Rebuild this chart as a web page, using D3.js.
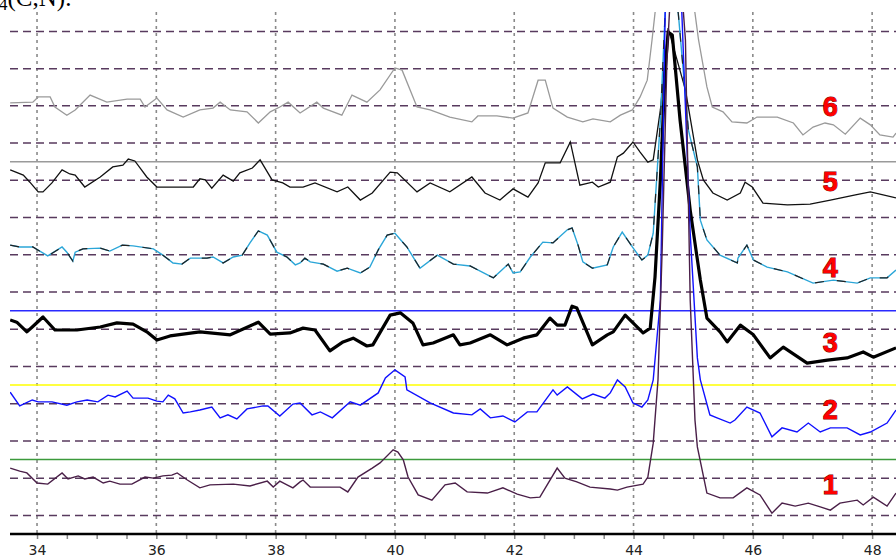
<!DOCTYPE html>
<html><head><meta charset="utf-8">
<script src="https://cdn.jsdelivr.net/npm/d3@7"></script>
<style>html,body{margin:0;padding:0;background:#fff;overflow:hidden}</style>
</head><body><svg id="c" width="896" height="558"></svg>
<script>
// ---- data (2θ in degrees, intensity in arbitrary counts) ----
const xTicks = [34, 36, 38, 40, 42, 44, 46, 48];
const gridLevels = [50,150,250,350,450,550,650,750,850,950,1050,1150,1250,1350];
const baseLevels = [200, 400, 600, 1000];
const baseColors = ["#3c9a3c", "#ffff00", "#2a2aff", "#9a9a9a"];
const seriesNames = ["1", "2", "3", "4", "5", "6"];
const labelX = [47.30, 47.30, 47.30, 47.30, 47.30, 47.30];
const labelY = [132, 333, 513, 714, 945, 1147];

const s1 = [[33.55,177],[33.71,169],[33.83,164],[34.00,137],[34.18,134],[34.42,164],[34.52,148],[34.69,156],[34.80,148],[34.94,153],[35.11,137],[35.22,142],[35.39,134],[35.59,134],[35.81,153],[35.95,150],[36.11,156],[36.26,158],[36.35,164],[36.52,145],[36.73,124],[36.90,132],[37.29,134],[37.57,129],[37.86,142],[37.96,126],[38.07,142],[38.19,132],[38.29,124],[38.41,140],[38.46,145],[38.58,126],[39.08,126],[39.21,113],[39.38,153],[39.62,177],[39.75,191],[39.97,226],[40.05,220],[40.14,199],[40.22,153],[40.39,105],[40.62,91],[40.84,132],[41.01,137],[41.21,113],[41.55,110],[41.81,124],[42.05,107],[42.27,97],[42.43,99],[42.72,177],[42.85,150],[43.05,140],[43.27,126],[43.61,121],[43.73,118],[43.89,126],[44.16,134],[44.24,153],[44.33,244],[44.41,414],[44.48,763],[44.56,1273],[44.70,1700],[44.87,1327],[44.95,629],[45.03,306],[45.07,234],[45.23,110],[45.45,97],[45.67,97],[45.90,124],[46.12,105],[46.32,56],[46.49,83],[46.71,75],[46.93,83],[47.13,73],[47.30,64],[47.46,83],[47.75,91],[47.85,78],[48.02,99],[48.25,75],[48.40,110]];
const s2 = [[33.55,381],[33.71,344],[33.92,360],[34.02,355],[34.25,355],[34.50,346],[34.67,355],[34.84,360],[35.02,355],[35.19,373],[35.31,368],[35.51,384],[35.61,365],[35.86,365],[36.01,357],[36.11,355],[36.20,373],[36.31,363],[36.45,325],[36.57,328],[36.73,333],[36.93,341],[37.07,312],[37.20,320],[37.35,309],[37.52,336],[37.79,344],[37.87,344],[38.07,317],[38.29,349],[38.41,352],[38.61,320],[38.75,328],[38.95,312],[39.25,355],[39.42,346],[39.72,379],[39.84,419],[40.00,441],[40.17,422],[40.20,387],[40.59,352],[40.98,325],[41.29,320],[41.43,336],[41.60,312],[41.81,317],[42.01,301],[42.22,328],[42.38,328],[42.65,387],[42.72,373],[42.89,395],[43.14,363],[43.32,376],[43.52,365],[43.61,379],[43.73,414],[43.86,395],[43.99,352],[44.14,341],[44.24,360],[44.33,414],[44.45,629],[44.53,1399],[44.66,1700],[44.81,1399],[44.95,808],[45.07,473],[45.12,414],[45.28,320],[45.40,312],[45.62,298],[45.70,306],[45.90,341],[46.12,325],[46.32,261],[46.49,285],[46.74,274],[46.93,298],[47.13,274],[47.30,285],[47.58,285],[47.80,266],[47.97,274],[48.25,298],[48.40,333]];
const s3 = [[33.55,575],[33.66,569],[33.83,543],[33.92,556],[34.10,583],[34.30,548],[34.67,548],[35.06,556],[35.34,567],[35.61,564],[35.84,543],[36.01,521],[36.23,532],[36.73,543],[37.24,535],[37.71,569],[37.91,537],[38.24,540],[38.46,553],[38.66,548],[38.91,492],[39.13,516],[39.30,526],[39.53,505],[39.63,508],[39.92,588],[40.09,594],[40.30,567],[40.47,508],[40.64,513],[40.98,535],[41.09,508],[41.26,513],[41.60,535],[41.88,508],[42.15,526],[42.38,535],[42.60,580],[42.72,561],[42.85,561],[42.97,612],[43.05,607],[43.31,508],[43.56,535],[43.66,543],[43.86,588],[44.16,540],[44.28,553],[44.36,690],[44.45,951],[44.53,1246],[44.58,1348],[44.65,1340],[44.78,1112],[44.95,870],[45.12,682],[45.23,580],[45.45,543],[45.57,516],[45.79,561],[46.01,535],[46.29,473],[46.51,502],[46.91,459],[47.25,467],[47.58,473],[47.85,489],[48.02,475],[48.40,500]];
const s4 = [[33.55,776],[33.71,771],[33.93,771],[34.18,747],[34.42,771],[34.50,757],[34.60,733],[34.64,757],[34.77,766],[35.06,768],[35.22,760],[35.43,776],[35.61,774],[35.95,766],[36.11,749],[36.28,728],[36.43,725],[36.57,741],[36.85,741],[36.95,744],[37.12,728],[37.29,744],[37.44,749],[37.57,782],[37.71,814],[37.86,803],[38.02,757],[38.19,744],[38.33,723],[38.41,728],[38.49,741],[38.58,731],[38.80,725],[39.03,706],[39.20,714],[39.42,701],[39.58,717],[39.72,763],[39.87,803],[40.00,808],[40.20,771],[40.42,714],[40.71,749],[40.98,725],[41.26,720],[41.65,688],[41.90,725],[41.98,701],[42.10,704],[42.27,744],[42.48,784],[42.65,782],[42.89,817],[42.97,822],[43.07,776],[43.15,731],[43.31,714],[43.56,723],[43.66,771],[43.81,811],[43.98,771],[44.14,736],[44.24,749],[44.33,808],[44.45,1112],[44.53,1399],[44.63,1500],[44.75,1399],[44.92,1085],[45.07,986],[45.12,843],[45.23,790],[45.45,749],[45.74,728],[45.75,741],[45.90,776],[46.01,736],[46.24,717],[46.58,704],[47.01,674],[47.35,682],[47.75,674],[47.97,688],[48.25,688],[48.40,709]];
const s5 = [[33.55,978],[33.77,964],[33.88,945],[34.02,919],[34.10,919],[34.25,943],[34.42,978],[34.55,967],[34.64,964],[34.80,932],[35.06,959],[35.27,986],[35.44,991],[35.53,1007],[35.64,1002],[35.84,959],[36.01,932],[36.62,932],[36.73,954],[36.82,951],[36.93,929],[37.12,964],[37.29,948],[37.40,970],[37.61,983],[37.74,1005],[37.94,951],[38.12,943],[38.24,932],[38.46,932],[38.66,943],[39.03,919],[39.21,932],[39.42,897],[39.62,916],[39.92,972],[40.04,970],[40.37,919],[40.59,943],[40.92,919],[41.29,959],[41.51,916],[41.76,897],[41.98,927],[42.23,905],[42.40,943],[42.52,997],[42.77,997],[42.94,1053],[43.10,937],[43.31,945],[43.41,932],[43.61,945],[43.73,1013],[43.83,1023],[43.99,1053],[44.11,1026],[44.24,999],[44.33,1005],[44.45,1139],[44.58,1359],[44.87,1193],[45.07,1005],[45.17,951],[45.33,916],[45.57,897],[45.79,916],[45.87,945],[45.99,932],[46.17,889],[46.58,884],[46.96,886],[47.30,897],[47.72,911],[47.97,919],[48.40,903]];
const s6 = [[33.55,1158],[33.93,1160],[34.02,1174],[34.22,1174],[34.30,1147],[34.50,1125],[34.64,1139],[34.89,1179],[35.17,1160],[35.51,1168],[35.73,1168],[35.81,1147],[36.01,1171],[36.18,1139],[36.45,1120],[36.73,1139],[36.95,1144],[37.07,1160],[37.24,1139],[37.52,1134],[37.71,1104],[37.91,1134],[38.07,1147],[38.21,1160],[38.41,1131],[38.69,1160],[38.80,1144],[39.11,1125],[39.28,1179],[39.53,1160],[39.75,1193],[40.00,1252],[40.12,1246],[40.37,1147],[40.59,1139],[40.92,1120],[41.29,1107],[41.39,1123],[41.71,1123],[41.98,1117],[42.23,1131],[42.40,1219],[42.52,1219],[42.65,1144],[42.89,1120],[43.15,1107],[43.32,1115],[43.61,1107],[43.78,1125],[43.98,1139],[44.11,1174],[44.23,1219],[44.31,1327],[44.36,1399],[44.51,1600],[44.66,1750],[44.85,1600],[45.03,1399],[45.09,1327],[45.23,1201],[45.32,1147],[45.50,1134],[45.65,1107],[45.90,1104],[46.07,1120],[46.41,1120],[46.68,1104],[46.84,1072],[47.01,1093],[47.21,1104],[47.35,1099],[47.55,1074],[47.80,1117],[47.97,1099],[48.13,1072],[48.35,1066],[48.40,1077]];

// ---- drawing ----
const svg = d3.select("#c");
const W = 896, padL = 10, padT = 12.8, baseY = 534;
const x = d3.scaleLinear().domain([33.547, 48.4]).range([padL, W]);
const y = d3.scaleLinear().domain([0, 1400]).range([baseY, padT]);

svg.append("rect").attr("width", W).attr("height", 558).attr("fill", "#fff");

svg.append("defs").append("clipPath").attr("id", "clip")
  .append("rect").attr("x", padL).attr("y", 12).attr("width", W - padL).attr("height", baseY - 12);

// title fragment at top-left
const t = svg.append("text").attr("x", -1).attr("y", 6)
  .attr("font-family", "Liberation Serif, Times New Roman, serif").attr("font-size", 25).attr("fill", "#000");
t.append("tspan").attr("font-size", 17).attr("dy", 4).text("4");
t.append("tspan").attr("dy", -4).text("(C,N).");

// vertical grid
svg.append("g").selectAll("line").data(xTicks).join("line")
  .attr("x1", d => x(d)).attr("x2", d => x(d)).attr("y1", 12).attr("y2", baseY)
  .attr("stroke", "#8a8a8a").attr("stroke-width", 1.6).attr("stroke-dasharray", "3,4");

// horizontal dashed grid
svg.append("g").selectAll("line").data(gridLevels).join("line")
  .attr("x1", padL).attr("x2", W).attr("y1", d => y(d)).attr("y2", d => y(d))
  .attr("stroke", "#583a5e").attr("stroke-width", 1.5).attr("stroke-dasharray", "8,5");

// solid baselines
svg.append("g").selectAll("line").data(baseLevels).join("line")
  .attr("x1", padL).attr("x2", W).attr("y1", d => y(d)).attr("y2", d => y(d))
  .attr("stroke", (d, i) => baseColors[i]).attr("stroke-width", 1.5);

// traces
const line = d3.line().x(d => x(d[0])).y(d => y(d[1]));
const g = svg.append("g").attr("clip-path", "url(#clip)");
g.append("path").datum(s6).attr("d", line).attr("fill", "none").attr("stroke", "#9a9a9a").attr("stroke-width", 1.3);
g.append("path").datum(s5).attr("d", line).attr("fill", "none").attr("stroke", "#111").attr("stroke-width", 1.3);
g.append("path").datum(s4).attr("d", line).attr("fill", "none").attr("stroke", "#2ba6d8").attr("stroke-width", 1.4);
g.append("path").datum(s4).attr("d", line).attr("fill", "none").attr("stroke", "#222").attr("stroke-width", 1.2).attr("stroke-dasharray", "9,13");
g.append("path").datum(s3).attr("d", line).attr("fill", "none").attr("stroke", "#000").attr("stroke-width", 3.2).attr("stroke-linejoin", "round");
g.append("path").datum(s2).attr("d", line).attr("fill", "none").attr("stroke", "#1010ff").attr("stroke-width", 1.4);
g.append("path").datum(s1).attr("d", line).attr("fill", "none").attr("stroke", "#4a1f48").attr("stroke-width", 1.4);

// x axis
const axis = d3.axisBottom(x).tickValues(d3.range(34, 48.01, 0.5)).tickSize(5)
  .tickFormat(d => xTicks.includes(d) ? d : "");
const ax = svg.append("g").attr("transform", `translate(0,${baseY})`).call(axis);
ax.select(".domain").remove();
ax.selectAll(".tick line").attr("stroke", "#888").attr("stroke-width", 1.5);
ax.selectAll(".tick text").attr("font-family", "DejaVu Sans, Verdana, sans-serif").attr("font-size", 14)
  .attr("fill", "#222").attr("dy", "0.95em");
svg.append("line").attr("x1", padL).attr("x2", W).attr("y1", baseY).attr("y2", baseY)
  .attr("stroke", "#000").attr("stroke-width", 2.5);

// series labels
svg.append("g").selectAll("text").data(seriesNames).join("text")
  .attr("x", (d, i) => x(labelX[i])).attr("y", (d, i) => y(labelY[i]))
  .attr("text-anchor", "middle").attr("dominant-baseline", "central")
  .attr("font-family", "Liberation Sans, Arial, sans-serif").attr("font-weight", "bold").attr("font-size", 27)
  .attr("fill", "#ff0000").attr("stroke", "#7a0000").attr("stroke-width", 1).attr("paint-order", "stroke")
  .text(d => d);
</script></body></html>
